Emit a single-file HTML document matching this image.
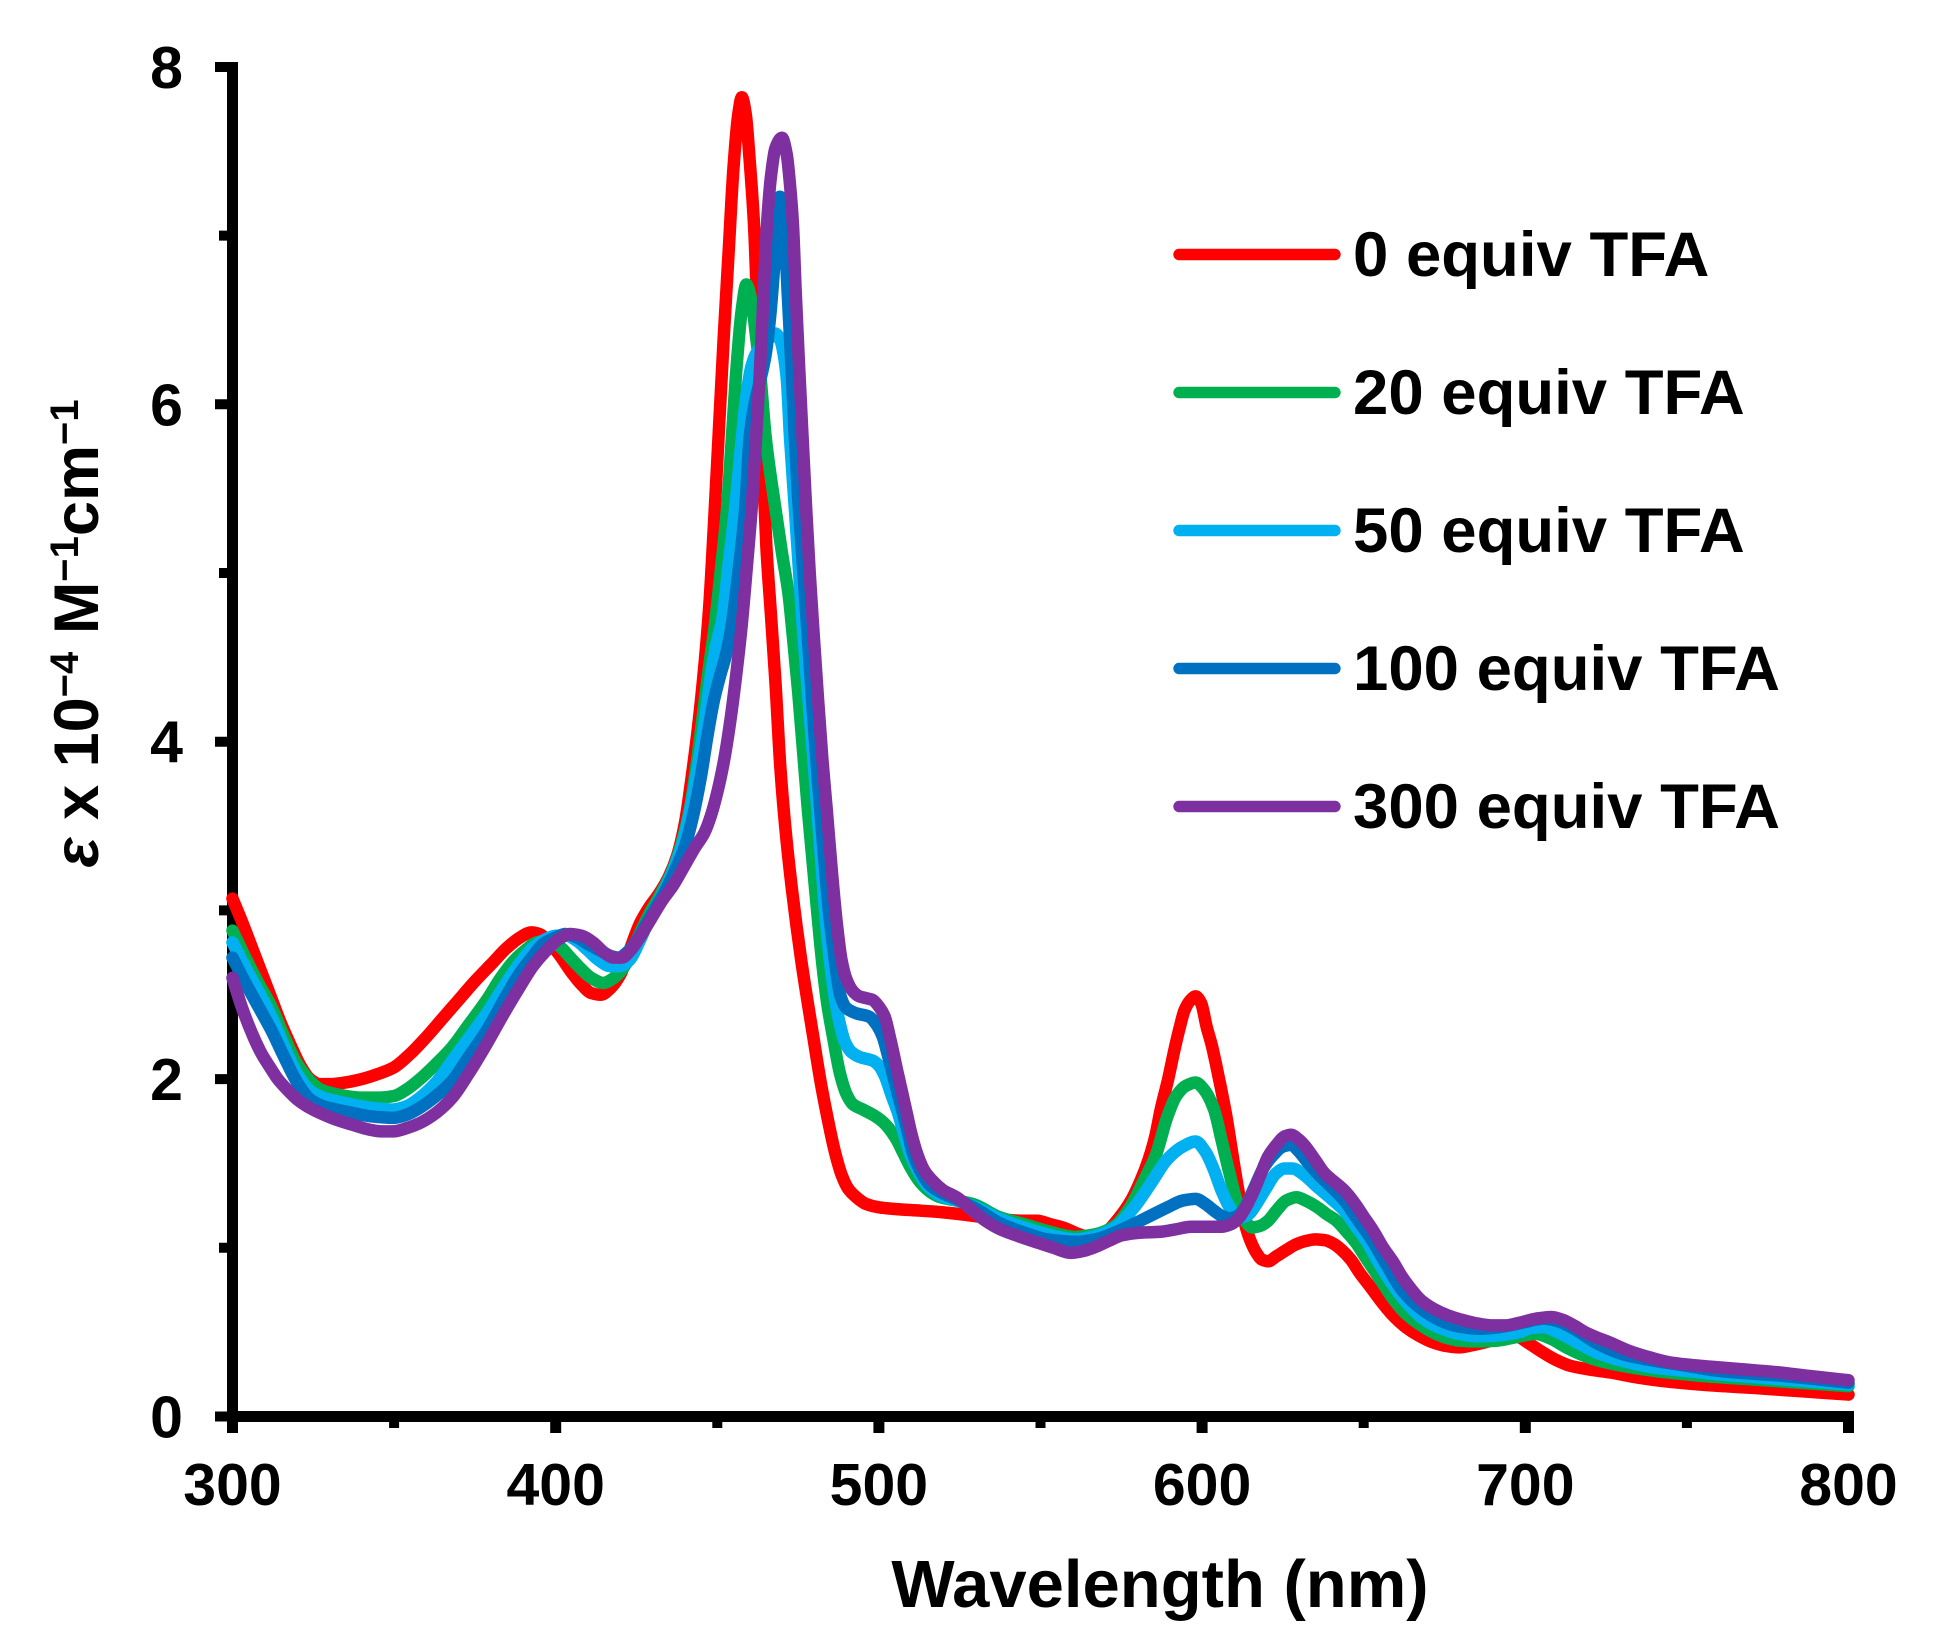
<!DOCTYPE html>
<html>
<head>
<meta charset="utf-8">
<style>
html,body{margin:0;padding:0;background:#fff;width:1945px;height:1650px;overflow:hidden}
svg{display:block}
</style>
</head>
<body>
<svg xmlns="http://www.w3.org/2000/svg" width="1945" height="1650" font-family="'Liberation Sans', Arial, sans-serif" font-weight="bold">
<rect x="0" y="0" width="1945" height="1650" fill="#fff"/>

<!-- axes -->
<g stroke="#000" stroke-linecap="butt" fill="none">
  <line x1="232.5" y1="67" x2="232.5" y2="1422" stroke-width="11"/>
  <line x1="227" y1="1416.5" x2="1854" y2="1416.5" stroke-width="11"/>
  <line x1="215" y1="1416.5" x2="238" y2="1416.5" stroke-width="10"/>
  <line x1="215" y1="1079.1" x2="238" y2="1079.1" stroke-width="10"/>
  <line x1="215" y1="741.7" x2="238" y2="741.7" stroke-width="10"/>
  <line x1="215" y1="404.3" x2="238" y2="404.3" stroke-width="10"/>
  <line x1="215" y1="67" x2="238" y2="67" stroke-width="10"/>
  <line x1="219" y1="1247.8" x2="238" y2="1247.8" stroke-width="10"/>
  <line x1="219" y1="910.4" x2="238" y2="910.4" stroke-width="10"/>
  <line x1="219" y1="573" x2="238" y2="573" stroke-width="10"/>
  <line x1="219" y1="235.6" x2="238" y2="235.6" stroke-width="10"/>
  <line x1="232.5" y1="1411" x2="232.5" y2="1433" stroke-width="11"/>
  <line x1="555.7" y1="1411" x2="555.7" y2="1433" stroke-width="11"/>
  <line x1="878.9" y1="1411" x2="878.9" y2="1433" stroke-width="11"/>
  <line x1="1202.1" y1="1411" x2="1202.1" y2="1433" stroke-width="11"/>
  <line x1="1525.3" y1="1411" x2="1525.3" y2="1433" stroke-width="11"/>
  <line x1="1848.5" y1="1411" x2="1848.5" y2="1433" stroke-width="11"/>
  <line x1="394.1" y1="1411" x2="394.1" y2="1428" stroke-width="10"/>
  <line x1="717.3" y1="1411" x2="717.3" y2="1428" stroke-width="10"/>
  <line x1="1040.5" y1="1411" x2="1040.5" y2="1428" stroke-width="10"/>
  <line x1="1363.7" y1="1411" x2="1363.7" y2="1428" stroke-width="10"/>
  <line x1="1686.9" y1="1411" x2="1686.9" y2="1428" stroke-width="10"/>
</g>

<!-- tick labels -->
<g font-size="59" fill="#000">
  <text x="183" y="1437.5" text-anchor="end">0</text>
  <text x="183" y="1100" text-anchor="end">2</text>
  <text x="183" y="762.7" text-anchor="end">4</text>
  <text x="183" y="425.3" text-anchor="end">6</text>
  <text x="183" y="88" text-anchor="end">8</text>
  <text x="232.5" y="1505" text-anchor="middle">300</text>
  <text x="555.7" y="1505" text-anchor="middle">400</text>
  <text x="878.9" y="1505" text-anchor="middle">500</text>
  <text x="1202.1" y="1505" text-anchor="middle">600</text>
  <text x="1525.3" y="1505" text-anchor="middle">700</text>
  <text x="1848.5" y="1505" text-anchor="middle">800</text>
</g>

<!-- axis titles -->
<text x="1160" y="1607" font-size="67" text-anchor="middle" fill="#000">Wavelength (nm)</text>
<text transform="translate(98 633.5) rotate(-90)" font-size="63" text-anchor="middle" fill="#000"><tspan font-style="italic">ε</tspan> x 10<tspan font-size="40" dy="-20">−4</tspan><tspan dy="20"> M</tspan><tspan font-size="40" dy="-20">−1</tspan><tspan dy="20">cm</tspan><tspan font-size="40" dy="-20">−1</tspan></text>

<!-- data -->
<g transform="translate(232.5 1416.5) scale(3.232 -168.7) translate(-300 0)" fill="none" stroke-linejoin="round" stroke-linecap="round">
<polyline class="d" vector-effect="non-scaling-stroke" stroke="#FF0000" stroke-width="12.5" points="300,3.07 303,2.93 306,2.78 309,2.63 312,2.48 315,2.33 318,2.2 321,2.08 324,2.0 327,1.97 330,1.97 335,1.98 340,2.0 345,2.03 350,2.07 355,2.15 360,2.25 365,2.36 370,2.47 375,2.58 380,2.68 385,2.78 389,2.84 392.5,2.87 395,2.86 398,2.81 401,2.74 405,2.63 408,2.56 411,2.51 414,2.50 417,2.54 420,2.62 423,2.77 426,2.92 429,3.02 432,3.10 435,3.2 437.5,3.32 440,3.52 442,3.78 444,4.08 446,4.45 447.5,4.8 449,5.3 450.5,5.85 452,6.4 453.5,6.9 455,7.4 456.5,7.72 457.6,7.82 458.8,7.72 460,7.45 461.4,7.05 462.3,6.6 463.2,6.1 464.2,5.6 465.2,5.15 466.5,4.78 468,4.35 469.5,3.85 471,3.5 473,3.14 476,2.7 479.7,2.25 482,1.98 484,1.78 486.5,1.56 488.5,1.43 490.5,1.35 493,1.3 496,1.26 500,1.24 505,1.23 513,1.22 520,1.21 529,1.19 537,1.17 545,1.16 549,1.16 553,1.14 557,1.12 562,1.08 566,1.06 570,1.09 574,1.17 578,1.28 581,1.4 583.4,1.52 585.5,1.66 587.2,1.82 589.5,2.0 591.4,2.17 593,2.3 594.6,2.41 596.5,2.47 598,2.49 599.7,2.45 601.4,2.31 603,2.2 604.5,2.07 606,1.93 607.5,1.78 609,1.6 610.5,1.42 612,1.26 613.3,1.14 615,1.04 616.8,0.97 618.5,0.93 620.4,0.92 623,0.95 626.3,0.99 629,1.02 632,1.04 635,1.05 638,1.045 641,1.02 643,0.99 646,0.93 648.8,0.85 652,0.77 655.9,0.67 659,0.6 663,0.53 667,0.48 671.3,0.44 675,0.42 679.5,0.41 683,0.42 686.6,0.435 691,0.46 695,0.48 698,0.47 701,0.435 705,0.385 709,0.34 714,0.3 721,0.275 726,0.262 735,0.23 745,0.205 757,0.185 770,0.17 785,0.15 800,0.13"/>
<polyline class="d" vector-effect="non-scaling-stroke" stroke="#00B050" stroke-width="12.5" points="300,2.88 304,2.72 308,2.57 312,2.43 316,2.25 320,2.09 324,1.99 327,1.94 330,1.92 335,1.9 340,1.89 345,1.89 350,1.9 354,1.94 358,2.0 363,2.09 368,2.19 373,2.32 378.7,2.47 383,2.6 387,2.7 391,2.77 394,2.81 398,2.82 401,2.79 405,2.71 408,2.65 411,2.6 414.7,2.57 418,2.6 422,2.69 425,2.82 429,2.98 432,3.08 436,3.23 439,3.4 441.5,3.6 443.5,3.85 445.5,4.15 447.5,4.45 449.3,4.7 451,5.0 453,5.38 454.5,5.8 456,6.23 457.5,6.55 459,6.71 460.5,6.62 462,6.4 463.2,6.2 465,5.8 468,5.38 470,5.12 472,4.88 473.5,4.6 475,4.3 476.5,3.95 478,3.6 480.2,3.14 482.4,2.7 484,2.45 485.8,2.25 488,2.03 490,1.91 492,1.85 495,1.82 498,1.79 501,1.75 503,1.71 505.5,1.64 507.6,1.56 510,1.47 512.7,1.39 516,1.33 519,1.3 524,1.28 529,1.26 537.5,1.18 545,1.14 552,1.1 561,1.065 567,1.08 573,1.13 578,1.25 582,1.4 585.7,1.55 589.3,1.78 592,1.9 595,1.96 598,1.98 600.5,1.94 603.7,1.82 606,1.64 608.5,1.44 611,1.26 613.3,1.16 615.6,1.12 618,1.13 620.4,1.16 623,1.22 626,1.28 629.2,1.3 632,1.28 635.7,1.24 638.5,1.2 641.6,1.16 644.5,1.1 647.6,1.03 651,0.93 655.9,0.79 659,0.7 663,0.61 667,0.55 671.3,0.5 675,0.47 679.5,0.45 685,0.445 691.4,0.45 697,0.47 703.3,0.49 708,0.46 712.6,0.41 717,0.37 722,0.335 730,0.3 740,0.27 755,0.24 770,0.22 785,0.2 800,0.18"/>
<polyline class="d" vector-effect="non-scaling-stroke" stroke="#00B0F0" stroke-width="12.5" points="300,2.81 304,2.66 308,2.52 312,2.37 316,2.19 320,2.03 324,1.93 328,1.89 332,1.87 337,1.85 342.5,1.83 349.7,1.82 354,1.84 358,1.89 363,1.98 368,2.11 373,2.24 378.7,2.39 384,2.55 389,2.69 393,2.78 397,2.83 400,2.85 403.4,2.85 406.5,2.82 409.6,2.77 413,2.71 416.8,2.67 420,2.67 423,2.71 426,2.82 429,2.95 432,3.06 436,3.22 439,3.38 441.5,3.58 444,3.85 446,4.1 448.5,4.45 450,4.6 451.5,4.72 453.5,5.05 455.5,5.38 457.6,5.8 459,6.05 460.5,6.22 462,6.3 464,6.35 466,6.39 467.9,6.42 469.5,6.38 470.5,6.3 471.5,6.15 472.5,5.8 474,5.38 475.5,4.95 476.5,4.67 478,4.3 479.5,3.95 481,3.59 482.3,3.25 483.7,2.92 485,2.68 486.4,2.48 488,2.32 489.5,2.22 491.5,2.16 494.2,2.13 498,2.11 500,2.08 501.8,2.02 504,1.9 505.9,1.8 508,1.66 509.6,1.56 512,1.46 514.9,1.37 519,1.31 524,1.28 530,1.24 537.5,1.17 545,1.12 552,1.08 561,1.05 567,1.07 573,1.12 579,1.24 584.8,1.4 589,1.52 594,1.6 598,1.63 601,1.57 603.7,1.46 606,1.34 608.5,1.24 610.5,1.19 612,1.18 614.5,1.2 616.8,1.26 620,1.36 622.8,1.44 625.5,1.47 628,1.47 631,1.44 635.7,1.36 640,1.29 644,1.22 647.5,1.13 651.2,1.03 655,0.9 659.4,0.77 663.5,0.67 667.7,0.59 673,0.53 679.5,0.49 685,0.475 691.4,0.48 698,0.5 702,0.525 705.6,0.53 710,0.5 715,0.45 722,0.38 730,0.33 740,0.29 750,0.27 760,0.25 780,0.22 800,0.19"/>
<polyline class="d" vector-effect="non-scaling-stroke" stroke="#0070C0" stroke-width="12.5" points="300,2.72 304,2.57 308,2.43 312,2.29 316,2.13 320,1.98 324,1.88 328,1.84 332,1.82 337,1.8 342.5,1.78 349.7,1.77 354,1.79 358,1.83 363,1.9 368,1.99 373,2.13 378.7,2.29 384,2.47 389,2.63 393,2.73 396,2.8 400,2.84 403,2.86 406.5,2.84 410,2.8 414,2.76 417,2.73 419.5,2.72 422,2.75 425,2.82 428,2.92 431,3.02 434,3.12 437,3.24 440,3.38 442.5,3.56 445,3.8 447,4.04 449,4.25 451,4.4 452.5,4.5 454.3,4.67 456.5,5.0 458.6,5.38 460,5.8 461.5,6.0 463,6.12 465,6.3 466.5,6.55 467.9,6.9 468.7,7.12 469.4,7.23 470.2,7.12 471,6.95 471.8,6.65 473,6.2 474,5.8 475,5.45 476.3,5.1 478,4.62 479.5,4.2 481,3.8 482.7,3.4 484.5,3.0 486.4,2.7 488,2.5 490,2.42 493,2.39 497,2.37 499,2.33 501.2,2.25 502.8,2.14 504.3,2.03 506,1.9 507.4,1.8 509,1.68 510.5,1.56 513,1.45 515.9,1.37 520,1.32 525,1.28 531,1.22 537.5,1.145 545,1.09 552,1.05 561,1.035 567,1.05 573,1.09 578.7,1.14 584,1.19 589.3,1.24 594,1.28 598,1.29 601,1.26 603.7,1.22 606,1.19 608.5,1.175 611,1.19 613.3,1.24 616,1.35 619.2,1.48 622,1.55 625,1.6 627.5,1.61 630,1.57 632.5,1.51 635.7,1.44 640,1.36 644,1.28 648,1.17 652.4,1.05 657,0.9 661.8,0.75 667,0.65 673.6,0.57 679,0.535 685.5,0.52 690,0.525 695,0.54 700,0.56 705.6,0.58 710,0.565 715,0.52 722,0.435 730,0.37 740,0.33 750,0.3 760,0.27 780,0.24 800,0.2"/>
<polyline class="d" vector-effect="non-scaling-stroke" stroke="#7F30A0" stroke-width="12.5" points="300,2.6 303,2.42 306.5,2.25 309,2.15 311.6,2.07 314,2.0 316.8,1.94 320,1.88 323,1.84 327,1.8 332,1.76 337,1.73 342.5,1.70 346,1.69 349.7,1.69 354,1.71 358,1.74 363,1.8 368,1.89 373,2.03 378.7,2.21 384,2.39 389,2.55 393,2.67 397,2.76 401,2.83 404.4,2.86 408,2.85 411.6,2.81 415,2.75 418,2.72 420.5,2.72 423,2.76 426,2.84 429.5,2.95 433,3.06 436.4,3.15 440,3.27 443,3.37 446,3.46 448,3.56 450,3.7 452,3.88 454,4.12 456,4.42 457.6,4.7 459.2,5.05 460.7,5.4 462,5.8 463.2,6.2 464.3,6.65 465.4,7.07 466.6,7.35 468,7.52 470,7.58 471.5,7.48 472.5,7.3 473.4,7.07 474.3,6.65 475.3,6.23 476.4,5.8 477.5,5.38 478.6,5.0 479.7,4.67 481,4.3 482.5,3.9 483.9,3.59 485.5,3.22 487,2.92 488.5,2.7 490,2.59 492,2.52 494,2.49 496,2.48 498,2.47 500,2.43 501.8,2.37 503.5,2.24 505.9,2.03 507.2,1.92 508.6,1.8 510,1.68 511.8,1.56 514,1.46 517,1.39 520,1.34 524,1.3 529,1.22 533,1.16 537.5,1.11 543,1.07 549.2,1.03 554,1.0 559.4,0.97 563,0.98 567,1.005 571,1.04 575.4,1.075 581,1.09 587.2,1.095 592,1.11 596.6,1.125 601,1.125 606.2,1.125 609,1.14 611.5,1.18 613.5,1.24 615.6,1.32 618,1.43 620.4,1.54 623,1.61 625.5,1.66 627.5,1.67 630,1.64 632,1.6 635,1.52 638,1.44 641,1.39 644,1.34 647,1.27 650,1.185 653,1.1 655.9,1.005 659,0.92 661.8,0.83 664.5,0.76 667.7,0.69 671.5,0.64 676,0.6 680,0.575 685.5,0.55 690,0.54 693.7,0.54 698,0.555 703.3,0.58 708.1,0.59 712,0.57 715,0.54 718.5,0.5 722,0.47 726,0.44 732,0.39 738.6,0.35 745,0.32 757.6,0.295 767,0.28 776.6,0.265 788,0.24 800,0.215"/>
</g>

<!-- legend -->
<g stroke-width="11.4" stroke-linecap="round">
  <line x1="1179" y1="254.5" x2="1335" y2="254.5" stroke="#FF0000"/>
  <line x1="1179" y1="392.5" x2="1335" y2="392.5" stroke="#00B050"/>
  <line x1="1179" y1="530.5" x2="1335" y2="530.5" stroke="#00B0F0"/>
  <line x1="1179" y1="668.5" x2="1335" y2="668.5" stroke="#0070C0"/>
  <line x1="1179" y1="806.5" x2="1335" y2="806.5" stroke="#7F30A0"/>
</g>
<g font-size="63.5" fill="#000">
  <text x="1353" y="276">0 equiv TFA</text>
  <text x="1353" y="414">20 equiv TFA</text>
  <text x="1353" y="552">50 equiv TFA</text>
  <text x="1353" y="690">100 equiv TFA</text>
  <text x="1353" y="828">300 equiv TFA</text>
</g>
</svg>
<script>
(function(){
  try{
    var NS='http://www.w3.org/2000/svg';
    var pls=document.querySelectorAll('polyline.d');
    for(var k=0;k<pls.length;k++){
      var pl=pls[k];
      var raw=pl.getAttribute('points').trim().split(/\s+/);
      var P=[];
      for(var i=0;i<raw.length;i++){var a=raw[i].split(',');P.push([parseFloat(a[0]),parseFloat(a[1])]);}
      var n=P.length;if(n<3)continue;
      var d=[],m=[];
      for(i=0;i<n-1;i++){d.push((P[i+1][1]-P[i][1])/(P[i+1][0]-P[i][0]));}
      m[0]=d[0];m[n-1]=d[n-2];
      for(i=1;i<n-1;i++){
        if(d[i-1]*d[i]<=0){m[i]=0;}
        else{
          var h0=P[i][0]-P[i-1][0],h1=P[i+1][0]-P[i][0];
          var w1=2*h1+h0,w2=h1+2*h0;
          m[i]=(w1+w2)/(w1/d[i-1]+w2/d[i]);
        }
      }
      var s='M'+P[0][0]+','+P[0][1];
      for(i=0;i<n-1;i++){
        var h=P[i+1][0]-P[i][0];
        var c1x=P[i][0]+h/3,c1y=P[i][1]+m[i]*h/3;
        var c2x=P[i+1][0]-h/3,c2y=P[i+1][1]-m[i+1]*h/3;
        s+=' C'+c1x.toFixed(3)+','+c1y.toFixed(4)+' '+c2x.toFixed(3)+','+c2y.toFixed(4)+' '+P[i+1][0]+','+P[i+1][1];
      }
      var path=document.createElementNS(NS,'path');
      path.setAttribute('d',s);
      path.setAttribute('stroke',pl.getAttribute('stroke'));
      path.setAttribute('stroke-width',pl.getAttribute('stroke-width'));
      path.setAttribute('vector-effect','non-scaling-stroke');
      path.setAttribute('fill','none');
      pl.parentNode.replaceChild(path,pl);
    }
  }catch(e){}
})();
</script>
</body>
</html>
